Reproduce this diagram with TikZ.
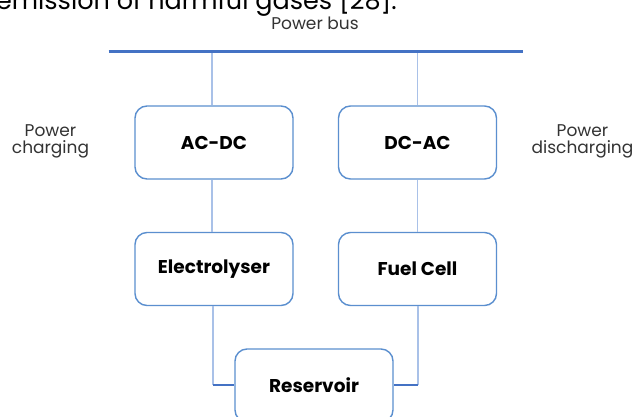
\documentclass[tikz,border=0pt]{standalone}
\usepackage{fontspec}
\setmainfont{Poppins}
\definecolor{boxblue}{HTML}{5B8FCF}
\definecolor{linkblue}{HTML}{A9C1E8}
\definecolor{busblue}{HTML}{4472C4}
\definecolor{txtgray}{HTML}{333333}
\tikzset{
  unitbox/.style={draw=boxblue, line width=1.4pt, rounded corners=12pt, fill=white,
    minimum width=158pt, minimum height=73pt, inner sep=0pt,
    font=\fontsize{18.5}{22}\selectfont\bfseries, text=black},
  link/.style={draw=linkblue, line width=1.3pt},
  joint/.style={draw=busblue, line width=2.4pt},
  lbl/.style={font=\fontsize{17}{16.5}\selectfont, text=txtgray, align=center}
}
\begin{document}
\begin{tikzpicture}[x=1pt,y=-1pt]
\clip (0,0) rectangle (633,416);
\fill[white] (0,0) rectangle (633,416);
% cropped caption text from page
\node[anchor=base east, inner sep=0pt, font=\fontsize{25.5}{30}\selectfont] (cap) at (397,9) {emission of harmful gases [28].};
% labels
\node[lbl, anchor=base] (pb) at (315,29.3) {Power bus};
\node[lbl] (pc) at (50.5,141.5) {Power\\charging};
\node[lbl] (pd) at (582.5,141.5) {Power\\discharging};
% bus
\coordinate (busL) at (108.5,51.3);
\coordinate (busR) at (522.5,51.3);
\coordinate (tapL) at (212,51.3);
\coordinate (tapR) at (417.5,51.3);
% boxes
\node[unitbox] (acdc) at (214,142.5) {AC-DC};
\node[unitbox] (dcac) at (417.5,142.5) {DC-AC};
\node[unitbox] (ely) at (214,269) {Electrolyser};
\node[unitbox] (fc) at (417.5,269) {Fuel Cell};
% links
\draw[link] (tapL) -- (acdc.north -| tapL);
\draw[link] (tapR) -- (dcac.north -| tapR);
\draw[link] (acdc.south -| tapL) -- (ely.north -| tapL);
\draw[link] (dcac.south -| tapR) -- (fc.north -| tapR);
\coordinate (cL) at (213,385);
\coordinate (cR) at (418,385);
\draw[link] (ely.south -| cL) -- (cL);
\draw[link] (fc.south -| cR) -- (cR);
\node[unitbox] (res) at (314,385.5) {Reservoir};
\draw[joint] (cL) -- (res.west |- cL);
\draw[joint] (cR) -- (res.east |- cR);
\draw[busblue, line width=3pt] (busL) -- (busR);
\end{tikzpicture}
\end{document}
